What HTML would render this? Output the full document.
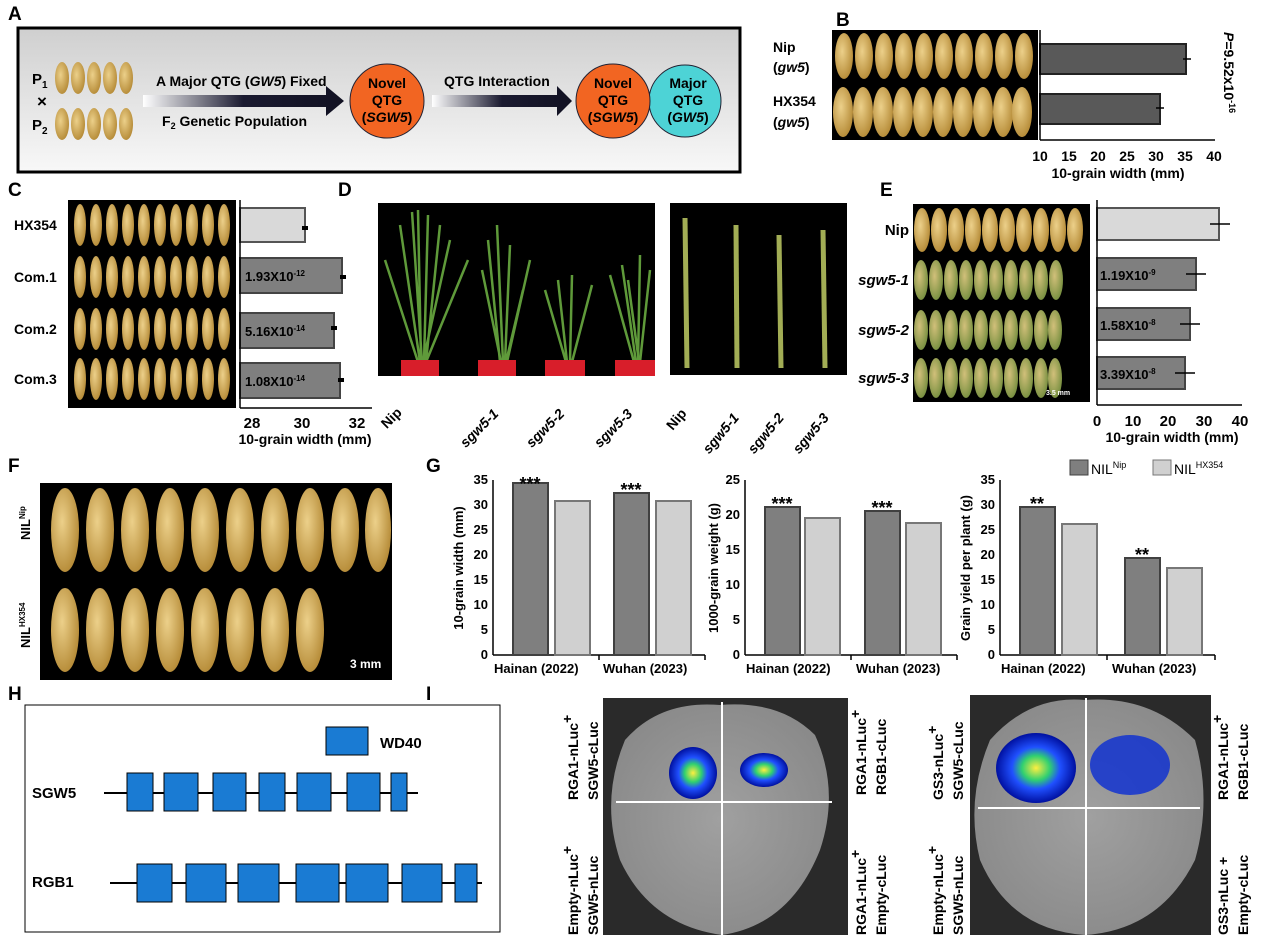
<!DOCTYPE html>
<html><head><meta charset="utf-8"><style>
body{margin:0;background:#fff}
svg{display:block;font-family:"Liberation Sans",Arial,sans-serif}
</style></head><body>
<svg width="1269" height="944" viewBox="0 0 1269 944" xmlns="http://www.w3.org/2000/svg">
<defs>
<linearGradient id="ga" x1="0" y1="0" x2="0" y2="1"><stop offset="0" stop-color="#cfcfcf"/><stop offset="1" stop-color="#f8f8f8"/></linearGradient>
<linearGradient id="arr" x1="0" x2="1"><stop offset="0" stop-color="#fff"/><stop offset="0.5" stop-color="#1a1a30"/><stop offset="1" stop-color="#111122"/></linearGradient>
<radialGradient id="grain" cx="0.4" cy="0.4" r="0.7"><stop offset="0" stop-color="#ecd08a"/><stop offset="1" stop-color="#b0842f"/></radialGradient>
<radialGradient id="ggreen" cx="0.4" cy="0.4" r="0.7"><stop offset="0" stop-color="#d2c07a"/><stop offset="1" stop-color="#6e8a3a"/></radialGradient>
<radialGradient id="lum" cx="0.5" cy="0.5" r="0.5"><stop offset="0" stop-color="#ffef40"/><stop offset="0.35" stop-color="#30d070"/><stop offset="0.6" stop-color="#2050ff"/><stop offset="1" stop-color="#0010a0"/></radialGradient>
<radialGradient id="leaf" cx="0.5" cy="0.5" r="0.6"><stop offset="0" stop-color="#a0a0a0"/><stop offset="1" stop-color="#888"/></radialGradient>
</defs>
<g font-weight="bold" font-size="19">
<text x="8" y="20">A</text><text x="836" y="26">B</text><text x="8" y="196">C</text><text x="338" y="196">D</text><text x="880" y="196">E</text><text x="8" y="472">F</text><text x="426" y="472">G</text><text x="8" y="700">H</text><text x="426" y="700">I</text>
</g>
<!-- A -->
<rect x="18" y="28" width="722" height="144" fill="url(#ga)" stroke="#000" stroke-width="3"/>
<g fill="url(#grain)">
<ellipse cx="62" cy="78" rx="7" ry="16"/><ellipse cx="78" cy="78" rx="7" ry="16"/><ellipse cx="94" cy="78" rx="7" ry="16"/><ellipse cx="110" cy="78" rx="7" ry="16"/><ellipse cx="126" cy="78" rx="7" ry="16"/>
<ellipse cx="62" cy="124" rx="7" ry="16"/><ellipse cx="78" cy="124" rx="7" ry="16"/><ellipse cx="94" cy="124" rx="7" ry="16"/><ellipse cx="110" cy="124" rx="7" ry="16"/><ellipse cx="126" cy="124" rx="7" ry="16"/>
</g>
<g font-weight="bold" font-size="15"><text x="32" y="84">P<tspan font-size="10" dy="4">1</tspan></text><text x="32" y="130">P<tspan font-size="10" dy="4">2</tspan></text>
<text x="37" y="107" font-size="17">×</text>
<text x="156" y="86" font-size="14" fill="#000">A Major QTG (<tspan font-style="italic">GW5</tspan>) Fixed</text>
<text x="162" y="126" font-size="14">F<tspan font-size="9" dy="3">2</tspan><tspan dy="-3"> Genetic Population</tspan></text>
<text x="444" y="86" font-size="14">QTG Interaction</text></g>
<polygon points="143,95 326,95 326,86 344,101 326,116 326,107 143,107" fill="url(#arr)"/>
<polygon points="432,95 557,95 557,86 572,101 557,116 557,107 432,107" fill="url(#arr)"/>
<circle cx="387" cy="101" r="37" fill="#f26522" stroke="#223"/>
<circle cx="685" cy="101" r="36" fill="#4dd3d6" stroke="#223"/>
<circle cx="613" cy="101" r="37" fill="#f26522" stroke="#223"/>
<g font-weight="bold" font-size="14" text-anchor="middle">
<text x="387" y="88">Novel</text><text x="387" y="105">QTG</text><text x="387" y="122">(<tspan font-style="italic">SGW5</tspan>)</text>
<text x="613" y="88">Novel</text><text x="613" y="105">QTG</text><text x="613" y="122">(<tspan font-style="italic">SGW5</tspan>)</text>
<text x="688" y="88">Major</text><text x="688" y="105">QTG</text><text x="688" y="122">(<tspan font-style="italic">GW5</tspan>)</text>
</g>
<!-- B -->
<g font-weight="bold" font-size="14"><text x="773" y="52">Nip</text><text x="773" y="72">(<tspan font-style="italic">gw5</tspan>)</text><text x="773" y="106">HX354</text><text x="773" y="127">(<tspan font-style="italic">gw5</tspan>)</text></g>
<rect x="832" y="30" width="206" height="110" fill="#000"/>
<g fill="url(#grain)">
<ellipse cx="844" cy="56" rx="9" ry="23"/><ellipse cx="864" cy="56" rx="9" ry="23"/><ellipse cx="884" cy="56" rx="9" ry="23"/><ellipse cx="904" cy="56" rx="9" ry="23"/><ellipse cx="924" cy="56" rx="9" ry="23"/><ellipse cx="944" cy="56" rx="9" ry="23"/><ellipse cx="964" cy="56" rx="9" ry="23"/><ellipse cx="984" cy="56" rx="9" ry="23"/><ellipse cx="1004" cy="56" rx="9" ry="23"/><ellipse cx="1024" cy="56" rx="9" ry="23"/>
<ellipse cx="843" cy="112" rx="10" ry="25"/><ellipse cx="863" cy="112" rx="10" ry="25"/><ellipse cx="883" cy="112" rx="10" ry="25"/><ellipse cx="903" cy="112" rx="10" ry="25"/><ellipse cx="923" cy="112" rx="10" ry="25"/><ellipse cx="943" cy="112" rx="10" ry="25"/><ellipse cx="963" cy="112" rx="10" ry="25"/><ellipse cx="983" cy="112" rx="10" ry="25"/><ellipse cx="1003" cy="112" rx="10" ry="25"/><ellipse cx="1022" cy="112" rx="10" ry="25"/>
</g>
<rect x="1040" y="44" width="146" height="30" fill="#595959" stroke="#222" stroke-width="2"/>
<rect x="1040" y="94" width="120" height="30" fill="#595959" stroke="#222" stroke-width="2"/>
<g stroke="#000" stroke-width="1.5"><line x1="1040" y1="30" x2="1040" y2="140"/><line x1="1040" y1="140" x2="1215" y2="140"/>
<line x1="1183" y1="59" x2="1191" y2="59"/><line x1="1156" y1="108" x2="1164" y2="108"/></g>
<g font-weight="bold" font-size="14" text-anchor="middle"><text x="1040" y="161">10</text><text x="1069" y="161">15</text><text x="1098" y="161">20</text><text x="1127" y="161">25</text><text x="1156" y="161">30</text><text x="1185" y="161">35</text><text x="1214" y="161">40</text>
<text x="1118" y="178">10-grain width (mm)</text></g>
<text transform="translate(1224,32) rotate(90)" font-weight="bold" font-size="14"><tspan font-style="italic">P</tspan>=9.52x10<tspan font-size="9" dy="-5">-16</tspan></text>
<!-- C -->
<rect x="68" y="200" width="168" height="208" fill="#000"/>
<g fill="url(#grain)">
<g id="crow"><ellipse cx="80" cy="225" rx="6" ry="21"/><ellipse cx="96" cy="225" rx="6" ry="21"/><ellipse cx="112" cy="225" rx="6" ry="21"/><ellipse cx="128" cy="225" rx="6" ry="21"/><ellipse cx="144" cy="225" rx="6" ry="21"/><ellipse cx="160" cy="225" rx="6" ry="21"/><ellipse cx="176" cy="225" rx="6" ry="21"/><ellipse cx="192" cy="225" rx="6" ry="21"/><ellipse cx="208" cy="225" rx="6" ry="21"/><ellipse cx="224" cy="225" rx="6" ry="21"/></g>
<use href="#crow" y="52"/><use href="#crow" y="104"/><use href="#crow" y="154"/></g>
<g font-weight="bold" font-size="14"><text x="14" y="230">HX354</text><text x="14" y="282">Com.1</text><text x="14" y="334">Com.2</text><text x="14" y="384">Com.3</text></g>
<rect x="240" y="208" width="65" height="34" fill="#d9d9d9" stroke="#555" stroke-width="2"/>
<rect x="240" y="258" width="102" height="35" fill="#7f7f7f" stroke="#444" stroke-width="2"/>
<rect x="240" y="313" width="94" height="35" fill="#7f7f7f" stroke="#444" stroke-width="2"/>
<rect x="240" y="363" width="100" height="35" fill="#7f7f7f" stroke="#444" stroke-width="2"/>
<g stroke="#000" stroke-width="1.5"><line x1="240" y1="200" x2="240" y2="408"/><line x1="240" y1="408" x2="372" y2="408"/>
<line x1="302" y1="228" x2="308" y2="228" stroke-width="4"/><line x1="340" y1="277" x2="346" y2="277" stroke-width="4"/><line x1="331" y1="328" x2="337" y2="328" stroke-width="4"/><line x1="338" y1="380" x2="344" y2="380" stroke-width="4"/></g>
<g font-weight="bold" font-size="13"><text x="245" y="281">1.93X10<tspan font-size="8" dy="-5">-12</tspan></text><text x="245" y="336">5.16X10<tspan font-size="8" dy="-5">-14</tspan></text><text x="245" y="386">1.08X10<tspan font-size="8" dy="-5">-14</tspan></text></g>
<g font-weight="bold" font-size="15" text-anchor="middle"><text x="252" y="428">28</text><text x="302" y="428">30</text><text x="357" y="428">32</text><text x="305" y="444" font-size="14">10-grain width (mm)</text></g>
<!-- D -->
<rect x="378" y="203" width="277" height="173" fill="#000"/>
<g stroke="#5f9a3a" stroke-width="2.5" fill="none">
<path d="M420,362 L400,225 M422,362 L412,212 M424,362 L428,215 M426,362 L440,225 M418,362 L385,260 M426,362 L468,260 M421,362 L418,210 M423,362 L450,240"/>
<path d="M500,362 L488,240 M503,362 L497,225 M505,362 L510,245 M507,362 L530,260 M501,362 L482,270 M506,362 L523,290"/>
<path d="M567,362 L558,280 M570,362 L572,275 M572,362 L592,285 M566,362 L545,290"/>
<path d="M636,362 L622,265 M638,362 L640,255 M640,362 L650,270 M634,362 L610,275 M639,362 L628,280"/></g>
<g fill="#d81e2a"><rect x="401" y="360" width="38" height="16"/><rect x="478" y="360" width="38" height="16"/><rect x="545" y="360" width="40" height="16"/><rect x="615" y="360" width="40" height="16"/></g>
<rect x="670" y="203" width="177" height="172" fill="#000"/>
<g stroke="#a2ad55" stroke-width="5" fill="none"><path d="M687,368 L685,218"/><path d="M737,368 L736,225"/><path d="M781,368 L779,235"/><path d="M825,368 L823,230"/></g>
<g font-weight="bold" font-size="14">
<text transform="translate(408,408) rotate(-45)" x="-30">Nip</text>
<text transform="translate(494,420) rotate(-45)" x="-40" font-style="italic">sgw5-1</text>
<text transform="translate(560,420) rotate(-45)" x="-40" font-style="italic">sgw5-2</text>
<text transform="translate(628,420) rotate(-45)" x="-40" font-style="italic">sgw5-3</text>
<text transform="translate(692,408) rotate(-50)" x="-30">Nip</text>
<text transform="translate(738,420) rotate(-50)" x="-45" font-style="italic">sgw5-1</text>
<text transform="translate(783,420) rotate(-50)" x="-45" font-style="italic">sgw5-2</text>
<text transform="translate(828,420) rotate(-50)" x="-45" font-style="italic">sgw5-3</text></g>
<!-- E -->
<rect x="913" y="204" width="177" height="198" fill="#000"/>
<g transform="translate(6,0)">
<g fill="url(#grain)"><ellipse cx="916" cy="230" rx="8" ry="22"/><ellipse cx="933" cy="230" rx="8" ry="22"/><ellipse cx="950" cy="230" rx="8" ry="22"/><ellipse cx="967" cy="230" rx="8" ry="22"/><ellipse cx="984" cy="230" rx="8" ry="22"/><ellipse cx="1001" cy="230" rx="8" ry="22"/><ellipse cx="1018" cy="230" rx="8" ry="22"/><ellipse cx="1035" cy="230" rx="8" ry="22"/><ellipse cx="1052" cy="230" rx="8" ry="22"/><ellipse cx="1069" cy="230" rx="8" ry="22"/></g>
<g fill="url(#ggreen)"><ellipse cx="915" cy="280" rx="7" ry="20"/><ellipse cx="930" cy="280" rx="7" ry="20"/><ellipse cx="945" cy="280" rx="7" ry="20"/><ellipse cx="960" cy="280" rx="7" ry="20"/><ellipse cx="975" cy="280" rx="7" ry="20"/><ellipse cx="990" cy="280" rx="7" ry="20"/><ellipse cx="1005" cy="280" rx="7" ry="20"/><ellipse cx="1020" cy="280" rx="7" ry="20"/><ellipse cx="1035" cy="280" rx="7" ry="20"/><ellipse cx="1050" cy="280" rx="7" ry="20"/>
<ellipse cx="915" cy="330" rx="7" ry="20"/><ellipse cx="930" cy="330" rx="7" ry="20"/><ellipse cx="945" cy="330" rx="7" ry="20"/><ellipse cx="960" cy="330" rx="7" ry="20"/><ellipse cx="975" cy="330" rx="7" ry="20"/><ellipse cx="990" cy="330" rx="7" ry="20"/><ellipse cx="1005" cy="330" rx="7" ry="20"/><ellipse cx="1020" cy="330" rx="7" ry="20"/><ellipse cx="1035" cy="330" rx="7" ry="20"/><ellipse cx="1049" cy="330" rx="7" ry="20"/>
<ellipse cx="915" cy="378" rx="7" ry="20"/><ellipse cx="930" cy="378" rx="7" ry="20"/><ellipse cx="945" cy="378" rx="7" ry="20"/><ellipse cx="960" cy="378" rx="7" ry="20"/><ellipse cx="975" cy="378" rx="7" ry="20"/><ellipse cx="990" cy="378" rx="7" ry="20"/><ellipse cx="1005" cy="378" rx="7" ry="20"/><ellipse cx="1020" cy="378" rx="7" ry="20"/><ellipse cx="1035" cy="378" rx="7" ry="20"/><ellipse cx="1049" cy="378" rx="7" ry="20"/></g>
</g>
<text x="1046" y="395" fill="#fff" font-size="7" font-weight="bold">3.5 mm</text>
<g font-weight="bold" font-size="15" text-anchor="end"><text x="909" y="235">Nip</text><text x="909" y="285" font-style="italic">sgw5-1</text><text x="909" y="335" font-style="italic">sgw5-2</text><text x="909" y="383" font-style="italic">sgw5-3</text></g>
<rect x="1097" y="208" width="122" height="32" fill="#d9d9d9" stroke="#555" stroke-width="2"/>
<rect x="1097" y="258" width="99" height="32" fill="#7f7f7f" stroke="#444" stroke-width="2"/>
<rect x="1097" y="308" width="93" height="32" fill="#7f7f7f" stroke="#444" stroke-width="2"/>
<rect x="1097" y="357" width="88" height="32" fill="#7f7f7f" stroke="#444" stroke-width="2"/>
<g stroke="#000" stroke-width="1.5"><line x1="1097" y1="200" x2="1097" y2="405"/><line x1="1097" y1="405" x2="1242" y2="405"/>
<line x1="1210" y1="224" x2="1230" y2="224"/><line x1="1186" y1="274" x2="1206" y2="274"/><line x1="1180" y1="324" x2="1200" y2="324"/><line x1="1175" y1="373" x2="1195" y2="373"/></g>
<g font-weight="bold" font-size="13"><text x="1100" y="280">1.19X10<tspan font-size="8" dy="-5">-9</tspan></text><text x="1100" y="330">1.58X10<tspan font-size="8" dy="-5">-8</tspan></text><text x="1100" y="379">3.39X10<tspan font-size="8" dy="-5">-8</tspan></text></g>
<g font-weight="bold" font-size="15" text-anchor="middle"><text x="1097" y="426">0</text><text x="1133" y="426">10</text><text x="1168" y="426">20</text><text x="1204" y="426">30</text><text x="1240" y="426">40</text><text x="1172" y="442" font-size="14">10-grain width (mm)</text></g>
<!-- F -->
<rect x="40" y="483" width="352" height="197" fill="#000"/>
<g fill="url(#grain)"><ellipse cx="65" cy="530" rx="14" ry="42"/><ellipse cx="100" cy="530" rx="14" ry="42"/><ellipse cx="135" cy="530" rx="14" ry="42"/><ellipse cx="170" cy="530" rx="14" ry="42"/><ellipse cx="205" cy="530" rx="14" ry="42"/><ellipse cx="240" cy="530" rx="14" ry="42"/><ellipse cx="275" cy="530" rx="14" ry="42"/><ellipse cx="310" cy="530" rx="14" ry="42"/><ellipse cx="345" cy="530" rx="14" ry="42"/><ellipse cx="378" cy="530" rx="13" ry="42"/>
<ellipse cx="65" cy="630" rx="14" ry="42"/><ellipse cx="100" cy="630" rx="14" ry="42"/><ellipse cx="135" cy="630" rx="14" ry="42"/><ellipse cx="170" cy="630" rx="14" ry="42"/><ellipse cx="205" cy="630" rx="14" ry="42"/><ellipse cx="240" cy="630" rx="14" ry="42"/><ellipse cx="275" cy="630" rx="14" ry="42"/><ellipse cx="310" cy="630" rx="14" ry="42"/></g>
<text x="350" y="668" fill="#fff" font-weight="bold" font-size="12">3 mm</text>
<g font-weight="bold" font-size="13"><text transform="translate(30,540) rotate(-90)">NIL<tspan font-size="8" dy="-5">Nip</tspan></text><text transform="translate(30,648) rotate(-90)">NIL<tspan font-size="8" dy="-5">HX354</tspan></text></g>
<!-- G -->
<g font-size="13" font-weight="bold">
<g stroke="#000" stroke-width="1.5"><line x1="493" y1="480" x2="493" y2="655"/><line x1="493" y1="655" x2="705" y2="655"/>
<line x1="745" y1="480" x2="745" y2="655"/><line x1="745" y1="655" x2="957" y2="655"/>
<line x1="1000" y1="480" x2="1000" y2="655"/><line x1="1000" y1="655" x2="1215" y2="655"/>
<line x1="599" y1="655" x2="599" y2="660"/><line x1="851" y1="655" x2="851" y2="660"/><line x1="1107" y1="655" x2="1107" y2="660"/>
<line x1="705" y1="655" x2="705" y2="660"/><line x1="957" y1="655" x2="957" y2="660"/><line x1="1215" y1="655" x2="1215" y2="660"/></g>
<g text-anchor="end"><text x="488" y="659">0</text><text x="488" y="634">5</text><text x="488" y="609">10</text><text x="488" y="584">15</text><text x="488" y="559">20</text><text x="488" y="534">25</text><text x="488" y="509">30</text><text x="488" y="484">35</text>
<text x="740" y="659">0</text><text x="740" y="624">5</text><text x="740" y="589">10</text><text x="740" y="554">15</text><text x="740" y="519">20</text><text x="740" y="484">25</text>
<text x="995" y="659">0</text><text x="995" y="634">5</text><text x="995" y="609">10</text><text x="995" y="584">15</text><text x="995" y="559">20</text><text x="995" y="534">25</text><text x="995" y="509">30</text><text x="995" y="484">35</text></g>
<text transform="translate(463,568) rotate(-90)" text-anchor="middle">10-grain width (mm)</text>
<text transform="translate(718,568) rotate(-90)" text-anchor="middle">1000-grain weight (g)</text>
<text transform="translate(970,568) rotate(-90)" text-anchor="middle">Grain yield per plant (g)</text>
<text x="494" y="673">Hainan (2022)</text><text x="603" y="673">Wuhan (2023)</text>
<text x="746" y="673">Hainan (2022)</text><text x="856" y="673">Wuhan (2023)</text>
<text x="1001" y="673">Hainan (2022)</text><text x="1112" y="673">Wuhan (2023)</text>
</g>
<g stroke="#404040" stroke-width="2">
<rect x="513" y="483" width="35" height="172" fill="#7f7f7f"/><rect x="555" y="501" width="35" height="154" fill="#d0d0d0" stroke="#777"/>
<rect x="614" y="493" width="35" height="162" fill="#7f7f7f"/><rect x="656" y="501" width="35" height="154" fill="#d0d0d0" stroke="#777"/>
<rect x="765" y="507" width="35" height="148" fill="#7f7f7f"/><rect x="805" y="518" width="35" height="137" fill="#d0d0d0" stroke="#777"/>
<rect x="865" y="511" width="35" height="144" fill="#7f7f7f"/><rect x="906" y="523" width="35" height="132" fill="#d0d0d0" stroke="#777"/>
<rect x="1020" y="507" width="35" height="148" fill="#7f7f7f"/><rect x="1062" y="524" width="35" height="131" fill="#d0d0d0" stroke="#777"/>
<rect x="1125" y="558" width="35" height="97" fill="#7f7f7f"/><rect x="1167" y="568" width="35" height="87" fill="#d0d0d0" stroke="#777"/>
</g>
<g font-weight="bold" font-size="18" text-anchor="middle"><text x="530" y="490">***</text><text x="631" y="496">***</text><text x="782" y="510">***</text><text x="882" y="514">***</text><text x="1037" y="510">**</text><text x="1142" y="561">**</text></g>
<rect x="1070" y="460" width="18" height="15" fill="#7f7f7f" stroke="#404040"/><rect x="1153" y="460" width="18" height="15" fill="#d0d0d0" stroke="#777"/>
<g font-size="14"><text x="1091" y="474">NIL<tspan font-size="9" dy="-6">Nip</tspan></text><text x="1174" y="474">NIL<tspan font-size="9" dy="-6">HX354</tspan></text></g>
<!-- H -->
<rect x="25" y="705" width="475" height="227" fill="#fff" stroke="#000"/>
<rect x="326" y="727" width="42" height="28" fill="#1a7bd3" stroke="#000"/>
<text x="380" y="748" font-weight="bold" font-size="15">WD40</text>
<g font-weight="bold" font-size="15"><text x="32" y="798">SGW5</text><text x="32" y="887">RGB1</text></g>
<line x1="104" y1="793" x2="418" y2="793" stroke="#000" stroke-width="2"/>
<g fill="#1a7bd3" stroke="#000"><rect x="127" y="773" width="26" height="38"/><rect x="164" y="773" width="34" height="38"/><rect x="213" y="773" width="33" height="38"/><rect x="259" y="773" width="26" height="38"/><rect x="297" y="773" width="34" height="38"/><rect x="347" y="773" width="33" height="38"/><rect x="391" y="773" width="16" height="38"/></g>
<line x1="110" y1="883" x2="482" y2="883" stroke="#000" stroke-width="2"/>
<g fill="#1a7bd3" stroke="#000"><rect x="137" y="864" width="35" height="38"/><rect x="186" y="864" width="40" height="38"/><rect x="238" y="864" width="41" height="38"/><rect x="296" y="864" width="43" height="38"/><rect x="346" y="864" width="42" height="38"/><rect x="402" y="864" width="40" height="38"/><rect x="455" y="864" width="22" height="38"/></g>
<!-- I -->
<rect x="603" y="698" width="245" height="237" fill="#2a2a2a"/>
<path d="M625,740 Q660,700 720,705 Q780,700 815,735 Q840,790 820,850 Q790,925 722,935 Q650,925 620,860 Q600,800 625,740 Z" fill="url(#leaf)"/>
<rect x="970" y="695" width="241" height="240" fill="#2a2a2a"/>
<path d="M990,740 Q1030,695 1085,700 Q1150,695 1195,740 Q1212,800 1195,860 Q1160,930 1085,935 Q1010,930 980,860 Q965,800 990,740 Z" fill="url(#leaf)"/>
<g stroke="#fff" stroke-width="2"><line x1="722" y1="702" x2="722" y2="935"/><line x1="616" y1="802" x2="832" y2="802"/><line x1="1086" y1="698" x2="1086" y2="935"/><line x1="978" y1="808" x2="1200" y2="808"/></g>
<ellipse cx="693" cy="773" rx="24" ry="26" fill="url(#lum)"/>
<ellipse cx="764" cy="770" rx="24" ry="17" fill="url(#lum)"/>
<ellipse cx="1036" cy="768" rx="40" ry="35" fill="url(#lum)"/>
<ellipse cx="1130" cy="765" rx="40" ry="30" fill="#1232d0" opacity="0.85"/>
<g font-size="14" font-weight="bold">
<text transform="translate(578,800) rotate(-90)">RGA1-nLuc<tspan dy="-6">+</tspan></text><text transform="translate(598,800) rotate(-90)">SGW5-cLuc</text>
<text transform="translate(866,795) rotate(-90)">RGA1-nLuc<tspan dy="-6">+</tspan></text><text transform="translate(886,795) rotate(-90)">RGB1-cLuc</text>
<text transform="translate(578,935) rotate(-90)">Empty-nLuc<tspan dy="-6">+</tspan></text><text transform="translate(598,935) rotate(-90)">SGW5-nLuc</text>
<text transform="translate(866,935) rotate(-90)">RGA1-nLuc<tspan dy="-6">+</tspan></text><text transform="translate(886,935) rotate(-90)">Empty-cLuc</text>
<text transform="translate(943,800) rotate(-90)">GS3-nLuc<tspan dy="-6">+</tspan></text><text transform="translate(963,800) rotate(-90)">SGW5-cLuc</text>
<text transform="translate(1228,800) rotate(-90)">RGA1-nLuc<tspan dy="-6">+</tspan></text><text transform="translate(1248,800) rotate(-90)">RGB1-cLuc</text>
<text transform="translate(943,935) rotate(-90)">Empty-nLuc<tspan dy="-6">+</tspan></text><text transform="translate(963,935) rotate(-90)">SGW5-nLuc</text>
<text transform="translate(1228,935) rotate(-90)">GS3-nLuc   +</text><text transform="translate(1248,935) rotate(-90)">Empty-cLuc</text>
</g>
</svg>
</body></html>
